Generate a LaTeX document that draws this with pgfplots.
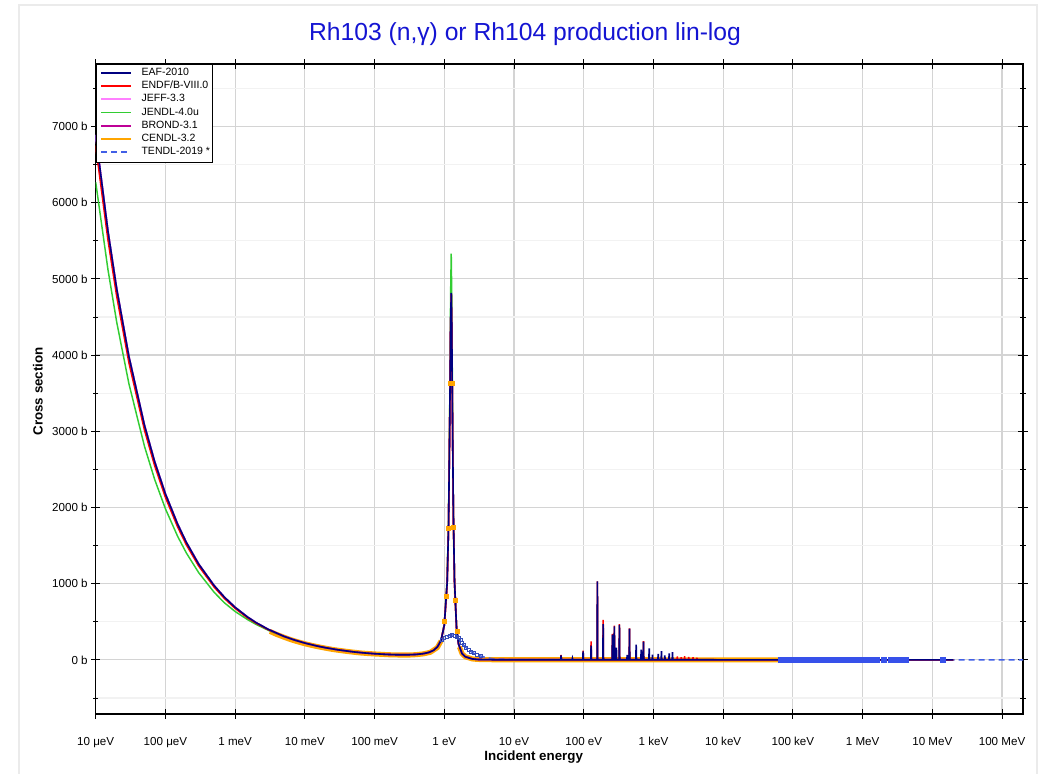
\documentclass[border=0pt]{standalone}
\usepackage{fontspec}
\setmainfont{Liberation Sans}
\usepackage{pgfplots}
\pgfplotsset{compat=1.18}
\usepackage{pgfplotstable}

\definecolor{eaf}{RGB}{0,0,128}
\definecolor{endf}{RGB}{255,0,0}
\definecolor{jeff}{RGB}{255,128,255}
\definecolor{jendl}{RGB}{50,205,50}
\definecolor{brond}{RGB}{190,0,150}
\definecolor{cendl}{RGB}{255,165,0}
\definecolor{tendl}{RGB}{65,95,230}
\definecolor{titleblue}{RGB}{20,20,210}

% EAF-2010
\pgfplotstableread{
E s
1e-5 6890
1.5e-5 5626
2e-5 4873
3e-5 3979
5e-5 3082
7e-5 2604
1e-4 2179
1.5e-4 1780
2e-4 1541
3e-4 1258
5e-4 975
7e-4 824
1e-3 690
1.5e-3 564
2e-3 489
3e-3 400
5e-3 310
7e-3 263
1e-2 221
1.5e-2 182
2e-2 159
3e-2 132
5e-2 105
7e-2 92
0.1 81
0.15 72
0.2 68
0.3 67
0.4 72
0.5 82
0.6 98
0.7 125
0.8 172
0.9 259
1.0 455
1.1 1017
1.15 1741
1.2 3203
1.23 4333
1.257 4815
1.28 4376
1.31 3217
1.35 1912
1.4 1043
1.5 410
1.6 209
1.8 81
2.0 42
2.5 13
3 6
4 3
6 2
10 2
46.8 2
47.3 60
47.8 2
68.1 2
68.8 20
69.5 2
97 2
98 113
99 2
126.3 2
127.6 187
128.9 2
155.4 2
157 1030
158.6 2
188.1 2
190 470
191.9 2
255.4 2
258 330
260.6 2
272.2 2
275 440
277.8 2
291 2
294 160
297 2
321.7 2
325 460
328.3 2
415.8 2
420 65
424.2 2
448.5 2
453 410
457.5 2
559 2
565 200
571 2
660 2
667 135
674 2
712 2
719 240
726 2
860 2
869 150
878 2
958 2
968 70
978 2
1158 2
1170 80
1182 2
1290 2
1303 115
1316 2
1440 2
1455 60
1470 2
1665 2
1682 85
1699 2
1857 2
1876 100
1895 2
3000 2
1e4 1
1e5 0.5
1e6 0.2
2e7 0.1
}\eaf

% ENDF/B-VIII.0
\pgfplotstableread{
E s
1e-5 6750
1.5e-5 5513
2e-5 4776
3e-5 3899
5e-5 3020
7e-5 2552
1e-4 2135
1.5e-4 1744
2e-4 1510
3e-4 1233
5e-4 956
7e-4 808
1e-3 676
1.5e-3 553
2e-3 481
3e-3 395
5e-3 308
7e-3 262
1e-2 221
1.5e-2 182
2e-2 159
3e-2 132
5e-2 105
7e-2 92
0.1 81
0.15 72
0.2 68
0.3 67
0.4 72
0.5 82
0.6 98
0.7 125
0.8 172
0.9 259
1.0 455
1.1 1017
1.15 1741
1.2 3203
1.23 4320
1.257 4800
1.28 4360
1.31 3210
1.35 1912
1.4 1043
1.5 410
1.6 209
1.8 81
2.0 42
2.5 13
3 6
4 3
6 2
10 2
46.8 2
47.3 66
47.8 2
97 2
98 120
99 2
126.3 2
127.6 244
128.9 2
155.4 2
157 1030
158.6 2
188.1 2
190 525
191.9 2
255.4 2
258 340
260.6 2
272.2 2
275 450
277.8 2
321.7 2
325 470
328.3 2
448.5 2
453 415
457.5 2
712 2
719 245
726 2
2189 2
2200 45
2211 2
2488 2
2500 35
2512 2
2786 2
2800 50
2814 2
3184 2
3200 40
3216 2
3682 2
3700 35
3718 2
4179 2
4200 30
4221 2
1e4 1
1e5 0.5
1e6 0.2
2e7 0.1
}\endf

% JEFF-3.3 and BROND-3.1 (drawn below EAF)
\pgfplotstableread{
E s
1e-5 6890
1.5e-5 5626
2e-5 4873
3e-5 3979
5e-5 3082
7e-5 2604
1e-4 2179
1.5e-4 1780
2e-4 1541
3e-4 1258
5e-4 975
7e-4 824
1e-3 690
1.5e-3 564
2e-3 489
3e-3 400
5e-3 310
7e-3 263
1e-2 221
1.5e-2 182
2e-2 159
3e-2 132
5e-2 105
7e-2 92
0.1 81
0.15 72
0.2 68
0.3 67
0.4 72
0.5 82
0.6 98
0.7 125
0.8 172
0.9 259
1.0 455
1.1 1017
1.15 1741
1.2 3203
1.23 4320
1.257 4800
1.28 4360
1.31 3210
1.35 1912
1.4 1043
1.5 410
1.6 209
1.8 81
2.0 42
2.5 13
3 6
4 3
6 2
10 2
1e3 1.5
1e4 1
1e5 0.5
1e6 0.2
2e7 0.1
}\jeff

% JENDL-4.0u
\pgfplotstableread{
E s
1e-5 6270
1.5e-5 5120
2e-5 4434
3e-5 3621
5e-5 2805
7e-5 2370
1e-4 1983
1.5e-4 1620
2e-4 1402
3e-4 1145
5e-4 887
7e-4 750
1e-3 635
1.5e-3 530
2e-3 465
3e-3 388
5e-3 307
7e-3 263
1e-2 221
1.5e-2 182
2e-2 159
3e-2 132
5e-2 105
7e-2 92
0.1 81
0.15 72
0.2 68
0.3 67
0.4 72
0.5 82
0.6 98
0.7 125
0.8 175
0.9 265
1.0 470
1.1 1080
1.15 1850
1.2 3450
1.23 4750
1.257 5330
1.28 4780
1.31 3450
1.35 2000
1.4 1080
1.5 420
1.6 212
1.8 82
2.0 42
2.5 13
3 6
4 3
6 2
10 2
1e3 1.5
1e4 1
1e5 0.5
1e6 0.2
2e7 0.1
}\jendl

% CENDL-3.2
\pgfplotstableread{
E s
3.16e-3 374
3.98e-3 333
5.01e-3 298
6.31e-3 265
7.94e-3 237
1e-2 212
1.26e-2 190
1.58e-2 171
2e-2 153
2.51e-2 137
3.16e-2 124
3.98e-2 112
5.01e-2 101
6.31e-2 91
7.94e-2 84
0.1 78
0.126 73
0.158 68
0.2 65
0.251 64
0.316 64
0.398 69
0.501 79
0.631 100
0.794 161
0.9 250
}\cendllow

\pgfplotstableread{
E s
3.16e-3 374
3.98e-3 333
5.01e-3 298
6.31e-3 265
7.94e-3 237
1e-2 212
1.26e-2 190
1.58e-2 171
2e-2 153
2.51e-2 137
3.16e-2 124
3.98e-2 112
5.01e-2 101
6.31e-2 91
7.94e-2 84
0.1 78
0.126 73
0.158 68
0.2 65
0.251 64
0.316 64
0.398 69
0.501 79
0.631 100
0.794 161
0.9 250
1.0 470
1.08 840
1.15 1730
1.21 3630
1.257 4800
1.30 3630
1.35 1740
1.42 787
1.52 371
1.65 170
1.8 81
2 42
2.5 13
3 6
5 2
1e3 1.5
1e5 1
}\cendl

\pgfplotstableread{
E s
1.65 170
1.8 81
2 42
2.5 13
3 6
5 2
1e3 1.5
1e5 1
}\cendlhigh

\pgfplotstableread{
E s
1.0 510
1.07 840
1.15 1730
1.21 3630
1.30 3630
1.35 1740
1.42 787
1.52 371
}\cendlmarks

% TENDL-2019
\pgfplotstableread{
E s
1e-5 6890
1.5e-5 5626
2e-5 4873
3e-5 3979
5e-5 3082
7e-5 2604
1e-4 2179
1.5e-4 1780
2e-4 1541
3e-4 1258
5e-4 975
7e-4 824
1e-3 690
1.5e-3 564
2e-3 489
3e-3 400
5e-3 310
7e-3 263
1e-2 221
1.5e-2 182
2e-2 159
3e-2 132
5e-2 105
7e-2 92
0.1 81
0.15 72
0.2 68
0.3 67
0.4 72
0.5 82
0.6 98
0.7 125
0.8 172
0.93 262
1.0 285
1.09 306
1.18 320
1.29 328
1.4 318
1.52 306
1.6 285
1.7 262
1.8 230
1.89 197
2.05 160
2.23 131
2.43 108
2.64 88
2.95 68
3.29 52
4 30
5 15
10 3
1e3 1
1e5 0.5
1e7 0.2
2e8 0.1
}\tendl

\pgfplotstableread{
E s
0.93 262
1.0 285
1.09 306
1.18 320
1.29 328
1.4 318
1.52 306
1.6 285
1.7 262
1.8 230
1.89 197
2.05 160
2.23 131
2.43 108
2.64 88
2.95 68
3.29 52
}\tendlhump

\pgfplotstableread{
E s
6.6e4 1
7.5e4 1
8.5e4 1
9.5e4 1
1.1e5 1
1.25e5 1
1.4e5 1
1.6e5 1
1.8e5 1
2e5 1
2.25e5 1
2.5e5 1
2.8e5 1
3.2e5 1
3.6e5 1
4e5 1
4.5e5 1
5e5 1
5.6e5 1
6.3e5 1
7e5 1
8e5 1
9e5 1
1e6 1
1.12e6 1
1.3e6 1
1.6e6 1
2.0e6 1
2.5e6 1
3.0e6 1
3.6e6 1
4.2e6 1
1.4e7 1
}\tendlhigh

\begin{document}
\begin{tikzpicture}
\useasboundingbox (-71.775pt,-45pt) rectangle (714.975pt,535.5pt);
\draw[black!8, line width=1pt] (-57.5pt,-50pt) -- (-57.5pt,531.75pt) -- (706pt,531.75pt) -- (706pt,-50pt);
\begin{axis}[
  at={(0,0)}, anchor=south west,
  scale only axis, width=695.5pt, height=487.5pt,
  xmode=log, log basis x=10,
  xmin=1e-5, xmax=2e8, ymin=-710, ymax=7820,
  xtick={1e-5,1e-4,1e-3,1e-2,1e-1,1,10,100,1e3,1e4,1e5,1e6,1e7,1e8},
  xticklabels={10 μeV,100 μeV,1 meV,10 meV,100 meV,1 eV,10 eV,100 eV,1 keV,10 keV,100 keV,1 MeV,10 MeV,100 MeV},
  xminorticks=false,
  ytick={0,1000,2000,3000,4000,5000,6000,7000},
  yticklabels={0 b,1000 b,2000 b,3000 b,4000 b,5000 b,6000 b,7000 b},
  minor ytick={-500,500,1500,2500,3500,4500,5500,6500,7500},
  xmajorgrids, ymajorgrids, yminorgrids,
  major grid style={draw=black!17, line width=0.9pt},
  minor grid style={draw=black!5, line width=0.9pt},
  axis line style={black, line width=1.1pt},
  tick style={black, line width=0.7pt},
  tick align=center,
  major tick length=7pt, minor tick length=4pt,
  ticklabel style={font=\fontsize{8.7}{10}\selectfont},
  xticklabel style={yshift=-10.5pt},
  yticklabel style={xshift=1pt},
  reverse legend,
  legend cell align=left,
  legend style={at={(0,1)}, anchor=north west, draw=black, line width=0.6pt,
    fill=white, font=\fontsize{7.9}{9}\selectfont,
    inner xsep=1pt, inner ysep=2pt,
    nodes={inner sep=0.6pt, text depth=0.15em}},
  legend image code/.code={%
    \path[draw=none, fill=none] (-3pt,-5.5pt) rectangle (29.5pt,4.4pt);
    \draw[#1, line width=1.4pt] (0pt,0pt) -- (22.5pt,0pt);},
]
% CENDL dense points shown as a thick band
\addplot[cendl, line width=3.8pt, forget plot] table[x=E,y=s] {\cendllow};
\addplot[cendl, line width=3.8pt, forget plot] table[x=E,y=s] {\cendlhigh};

\addplot[tendl, line width=1.1pt, dash pattern=on 4.5pt off 3pt] table[x=E,y=s] {\tendl};
\addlegendentry{TENDL-2019 *}
\addplot[cendl, line width=1.2pt] table[x=E,y=s] {\cendl};
\addlegendentry{CENDL-3.2}
\addplot[brond, line width=1.2pt] table[x=E,y=s] {\jeff};
\addlegendentry{BROND-3.1}
\addplot[jendl, line width=1.1pt] table[x=E,y=s] {\jendl};
\addlegendentry{JENDL-4.0u}
\addplot[jeff, line width=1.2pt] table[x=E,y=s] {\jeff};
\addlegendentry{JEFF-3.3}
\addplot[endf, line width=1.2pt] table[x=E,y=s] {\endf};
\addlegendentry{ENDF/B-VIII.0}
\addplot[eaf, line width=1.2pt] table[x=E,y=s] {\eaf};
\addlegendentry{EAF-2010}

\addplot[only marks, mark=square*, mark size=1.5pt, color=cendl, forget plot] table[x=E,y=s] {\cendlmarks};
\addplot[only marks, mark=square, mark size=1.1pt, color=tendl!80!black, forget plot] table[x=E,y=s] {\tendlhump};
\addplot[only marks, mark=square*, mark size=1.9pt, color=tendl!85!blue, forget plot] table[x=E,y=s] {\tendlhigh};
\end{axis}
\node[font=\fontsize{18.5}{20}\selectfont, text=titleblue] at (322pt,510pt) {Rh103 (n,γ) or Rh104 production lin-log};
\node[rotate=90, font=\bfseries\fontsize{10}{12}\selectfont] at (-43.3pt,242pt) {Cross section};
\node[font=\bfseries\fontsize{10}{12}\selectfont] at (328.5pt,-32.25pt) {Incident energy};
\end{tikzpicture}
\end{document}
